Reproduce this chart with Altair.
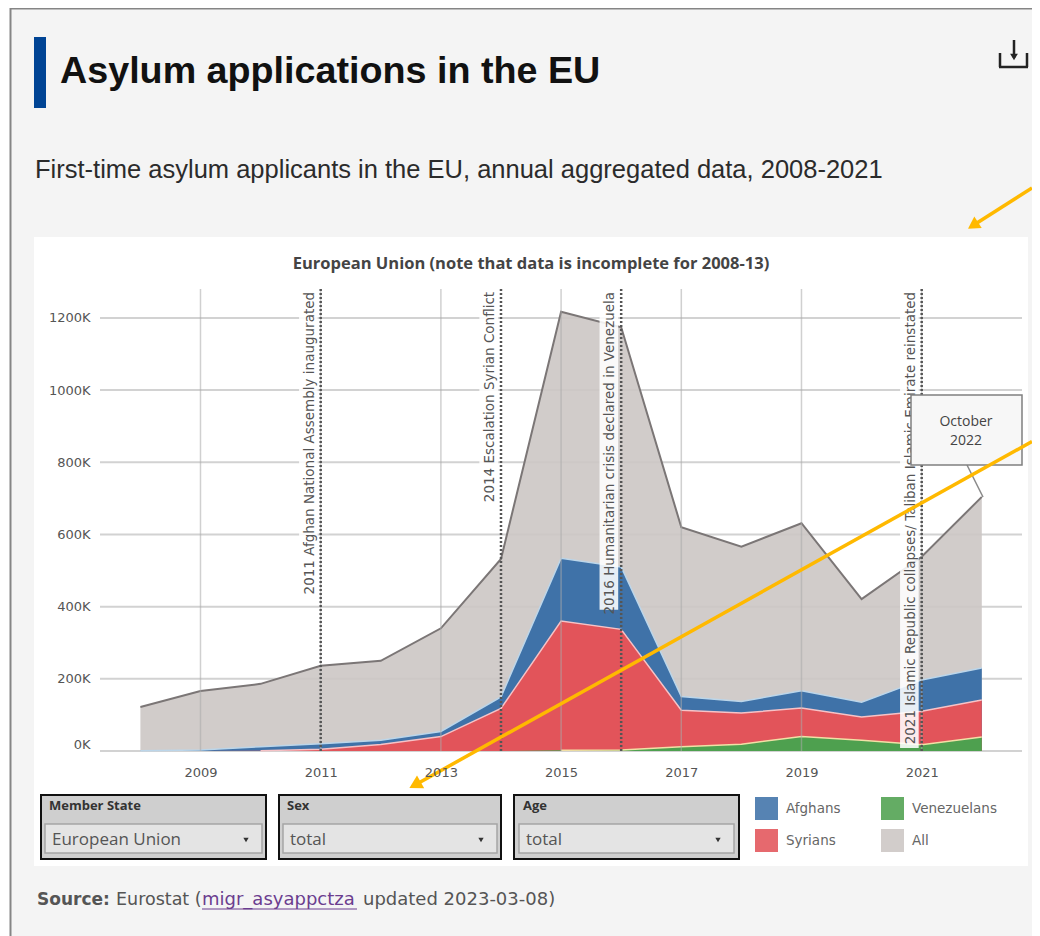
import altair as alt
import pandas as pd

years = list(range(2008, 2023))
all_applicants = [122, 166, 186, 236, 250, 340, 532, 1217, 1174, 620, 566, 631, 421, 538, 704]
afghans = [1, 3, 11, 15, 12, 14, 32, 174, 173, 38, 32, 48, 41, 87, 89]
syrians = [0, 0, 1, 5, 18, 40, 118, 358, 334, 101, 86, 79, 64, 93, 102]
venezuelans = [0, 0, 0, 0, 0, 0, 0, 2, 3, 12, 19, 40, 30, 17, 39]

series_names = ["Afghans", "Syrians", "Venezuelans", "All"]
series_colors = ["#3f72a8", "#e2545a", "#4ea04f", "#ccc6c4"]

event_years = [2011, 2014, 2016, 2021]
event_labels = [
    "2011 Afghan National Assembly inaugurated",
    "2014 Escalation Syrian Conflict",
    "2016 Humanitarian crisis declared in Venezuela",
    "2021 Islamic Republic collapses/ Taliban Islamic Emirate reinstated",
]
event_label_bottoms = [424, 674, 391, 8]
grid_years = [2009, 2011, 2013, 2015, 2017, 2019, 2021]
y_ticks = [0, 200, 400, 600, 800, 1000, 1200]

rows = []
for i, yr in enumerate(years):
    v = venezuelans[i]
    s = v + syrians[i]
    a = s + afghans[i]
    rows.append(dict(year=yr, series="All", top=all_applicants[i], own=all_applicants[i]))
    rows.append(dict(year=yr, series="Afghans", top=a, own=afghans[i]))
    rows.append(dict(year=yr, series="Syrians", top=s, own=syrians[i]))
    rows.append(dict(year=yr, series="Venezuelans", top=v, own=v))
df = pd.DataFrame(rows)

X0, Y0, W, H = 100, 289, 922, 462
xscale = alt.Scale(domain=[2007.328, 2022.669], nice=False, zero=False)
yscale = alt.Scale(domain=[0, 1280], nice=False)
dummy = pd.DataFrame({"k": [0]})


def rect(x0, y0, x1, y1, **kw):
    return alt.Chart(dummy).mark_rect(**kw).encode(
        x=alt.value(x0 - X0), x2=alt.value(x1 - X0),
        y=alt.value(y0 - Y0), y2=alt.value(y1 - Y0))


def line(x0, y0, x1, y1, **kw):
    return alt.Chart(dummy).mark_rule(**kw).encode(
        x=alt.value(x0 - X0), x2=alt.value(x1 - X0),
        y=alt.value(y0 - Y0), y2=alt.value(y1 - Y0))


def text(x, y, s, **kw):
    return alt.Chart(dummy).mark_text(text=s, **kw).encode(
        x=alt.value(x - X0), y=alt.value(y - Y0))


def tri(x, y, angle, size, color, shape="triangle-up"):
    return alt.Chart(dummy).mark_point(
        shape=shape, angle=angle, size=size, filled=True, color=color, opacity=1
    ).encode(x=alt.value(x - X0), y=alt.value(y - Y0))


layers = []
# page chrome
layers.append(rect(10, 8, 1032, 936, fill="#f4f4f4"))
layers.append(line(10, 8.5, 1032, 8.5, color="#858585", strokeWidth=2))
layers.append(line(10.5, 8, 10.5, 936, color="#858585", strokeWidth=2))
layers.append(rect(34, 237, 1028, 866, fill="#ffffff"))
layers.append(rect(34, 37, 46, 108, fill="#004494"))
# download icon
layers.append(line(1014, 40, 1014, 58, color="#222222", strokeWidth=2.5))
layers.append(tri(1014, 57, 0, 60, "#222222", "triangle-down"))
layers.append(line(1000, 53, 1000, 67, color="#222222", strokeWidth=2.5))
layers.append(line(1027, 53, 1027, 67, color="#222222", strokeWidth=2.5))
layers.append(line(999, 67, 1028, 67, color="#222222", strokeWidth=2.5))
layers.append(text(35, 170, "First-time asylum applicants in the EU, annual aggregated data, 2008-2021",
                   align="left", font="Liberation Sans", fontSize=25.5, color="#2b2b2b"))
layers.append(text(531, 264, "European Union (note that data is incomplete for 2008-13)",
                   align="center", font="Open Sans", fontWeight="bold", fontSize=16.5, color="#444444"))

# horizontal grid
grid_h = pd.DataFrame({"v": y_ticks})
layers.append(alt.Chart(grid_h).mark_rule(color="#d2d2d2", strokeWidth=2).encode(
    y=alt.Y("v:Q", scale=yscale, title=None,
            axis=alt.Axis(values=y_ticks, labelExpr="datum.value + 'K'", grid=False, domain=False, ticks=False,
                          labelPadding=10, labelFont="DejaVu Sans", labelFontSize=13, labelColor="#555555",
                          labelBaseline=alt.expr("datum.value == 0 ? 'bottom' : 'middle'"), zindex=1))))

# areas
area = alt.Chart(df).mark_area(interpolate="linear").encode(
    x=alt.X("year:Q", scale=xscale, title=None,
            axis=alt.Axis(values=grid_years, format="d", grid=False, domain=False, ticks=False, labelPadding=15,
                          labelFont="DejaVu Sans", labelFontSize=13, labelColor="#555555", zindex=1)),
    y=alt.Y("top:Q", scale=yscale, stack=None),
    color=alt.Color("series:N", scale=alt.Scale(domain=series_names, range=series_colors),
                    legend=alt.Legend(title=None, orient="none", legendX=655, legendY=508, columns=2, padding=0,
                                      symbolType="square", symbolSize=529, symbolStrokeWidth=0, symbolOpacity=0.88,
                                      labelFont="DejaVu Sans", labelFontSize=13.5, labelColor="#666666",
                                      columnPadding=40, rowPadding=9, labelOffset=8)),
    opacity=alt.condition("datum.series == 'All'", alt.value(0.9), alt.value(1)),
)
layers.append(area)

# series edge lines
edge_colors = {"All": "#7b7676", "Afghans": "#bcd6ea", "Syrians": "#f6c3c7", "Venezuelans": "#f2e0a6"}
for name in ["All", "Afghans", "Syrians", "Venezuelans"]:
    sub = df[(df.series == name) & (df.top > 0)]
    layers.append(alt.Chart(sub).mark_line(color=edge_colors[name], strokeWidth=2 if name == "All" else 1.5).encode(
        x=alt.X("year:Q", scale=xscale), y=alt.Y("top:Q", scale=yscale, stack=None)))

# vertical grid
grid_v = pd.DataFrame({"year": grid_years})
layers.append(alt.Chart(grid_v).mark_rule(color="#a9a9a9", strokeWidth=1.5, opacity=0.55).encode(
    x=alt.X("year:Q", scale=xscale)))

# events
ev = pd.DataFrame({"year": event_years, "label": event_labels, "bottom": event_label_bottoms})
ev["left"] = ev.year - 0.36
ev["right"] = ev.year - 0.05
ev["top"] = 1272
layers.append(alt.Chart(ev).mark_rect(fill="#ffffff", opacity=0.88).encode(
    x=alt.X("left:Q", scale=xscale), x2="right:Q",
    y=alt.Y("bottom:Q", scale=yscale), y2="top:Q"))
layers.append(alt.Chart(ev).mark_rule(color="#555555", strokeWidth=2.5, strokeDash=[2, 2]).encode(
    x=alt.X("year:Q", scale=xscale)))
layers.append(alt.Chart(ev).mark_text(angle=270, align="right", baseline="middle", dx=0, dy=-11,
                                      font="DejaVu Sans", fontSize=13.5, color="#555555").encode(
    x=alt.X("year:Q", scale=xscale), y=alt.Y("top:Q", scale=yscale), text="label:N"))

# tooltip box
layers.append(line(967, 465, 983, 497, color="#8a8a8a", strokeWidth=1.5))
layers.append(rect(911, 395, 1022, 465, fill="#f7f7f7", stroke="#808080", strokeWidth=1.5))
layers.append(text(966, 422, "October", align="center", font="Open Sans", fontSize=14, color="#444444"))
layers.append(text(966, 441, "2022", align="center", font="Open Sans", fontSize=14, color="#444444"))

# dropdowns
for (bx0, bx1, ix0, ix1, lab, val) in [
    (41, 266, 45, 262, "Member State", "European Union"),
    (279, 501, 283, 497, "Sex", "total"),
    (514, 739, 519, 734, "Age", "total"),
]:
    layers.append(rect(bx0, 795, bx1, 859, fill="#cfcfcf", stroke="#111111", strokeWidth=2))
    layers.append(rect(ix0, 824, ix1, 853, fill="#e4e4e4", stroke="#a5a5a5", strokeWidth=1.5))
    layers.append(text(ix0 + 4, 806, lab, align="left", font="Open Sans", fontWeight="bold", fontSize=13, color="#333333"))
    layers.append(text(ix0 + 7, 840, val, align="left", font="Open Sans", fontSize=17, color="#555555"))
    layers.append(tri(ix1 - 16, 840, 0, 28, "#333333", "triangle-down"))

# source
layers.append(text(37, 900, "Source:", align="left", font="DejaVu Sans", fontWeight="bold", fontSize=17, color="#555555"))
layers.append(text(116, 900, "Eurostat (", align="left", font="DejaVu Sans", fontSize=17.5, color="#555555"))
layers.append(text(202, 900, "migr_asyappctza", align="left", font="DejaVu Sans", fontSize=18, color="#6b3d8f"))
layers.append(line(202, 909, 357, 909, color="#6b3d8f", strokeWidth=1))
layers.append(text(363, 900, "updated 2023-03-08)", align="left", font="DejaVu Sans", fontSize=18, color="#555555"))

# orange annotation arrows
layers.append(line(1032, 188, 973, 225.5, color="#ffb900", strokeWidth=3.5))
layers.append(tri(973, 225.5, 237.4, 190, "#ffb900"))
layers.append(line(1032, 441.5, 415, 785, color="#ffb900", strokeWidth=3.5))
layers.append(tri(415, 785, 240.9, 220, "#ffb900"))

chart = alt.layer(*layers).resolve_scale(x="shared", y="shared").properties(
    width=W, height=H,
    autosize=alt.AutoSizeParams(type="none"),
    padding={"left": 92, "top": 281, "right": 10, "bottom": 185},
    title=alt.TitleParams("Asylum applications in the EU", anchor="start", dx=51, offset=-114,
                          font="Liberation Sans", fontWeight="bold", fontSize=37.7, color="#111111",
                          baseline="alphabetic"),
).configure_view(stroke=None)

chart.save("out.html", embed_options={"renderer": "svg", "actions": False})
